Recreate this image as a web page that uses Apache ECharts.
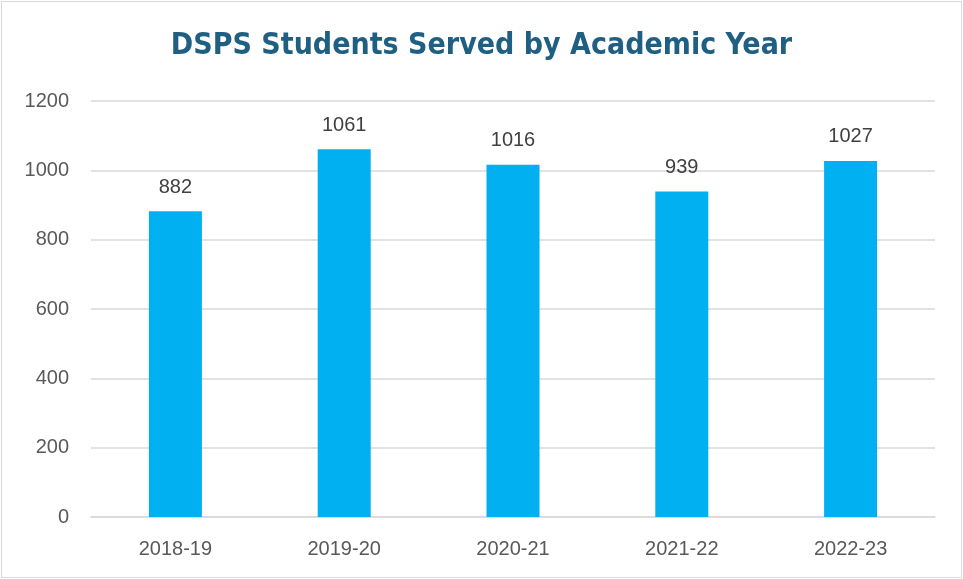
<!DOCTYPE html>
<html><head><meta charset="utf-8">
<script src="https://cdn.jsdelivr.net/npm/echarts@6/dist/echarts.min.js"></script>
<style>html,body{margin:0;padding:0;background:#fff}
#c{position:absolute;left:1px;top:1px;width:959px;height:575px;border:1px solid #d9d9d9;box-sizing:content-box}</style>
</head><body><div id="c"></div>
<script>
const categories = ['2018-19','2019-20','2020-21','2021-22','2022-23'];
const students = [882,1061,1016,939,1027];
const chart = echarts.init(document.getElementById('c'));
const lf = 'Liberation Sans, Arial, sans-serif';
chart.setOption({
  animation:false,
  title:{text:'DSPS Students Served by Academic Year',left:'center',top:24,
    textStyle:{fontFamily:'DejaVu Sans Condensed, Roboto, sans-serif',fontWeight:'bold',fontSize:30,color:'#1F5F82'}},
  grid:{left:89,right:26,top:99,bottom:60},
  xAxis:{type:'category',data:categories,
    axisLine:{lineStyle:{color:'#d9d9d9',width:1.5}},axisTick:{show:false},
    axisLabel:{color:'#595959',fontSize:20,margin:22,fontFamily:lf}},
  yAxis:{type:'value',min:0,max:1200,interval:200,
    axisLine:{show:false},axisTick:{show:false},
    splitLine:{lineStyle:{color:'#d9d9d9',width:1.5}},
    axisLabel:{color:'#595959',fontSize:20,margin:22,fontFamily:lf,formatter:v=>String(v)}},
  series:[{type:'bar',data:students,barWidth:53,itemStyle:{color:'#00B0F0'},
    label:{show:true,position:'top',distance:14,color:'#404040',fontSize:20,fontFamily:lf}}]
});
</script></body></html>
